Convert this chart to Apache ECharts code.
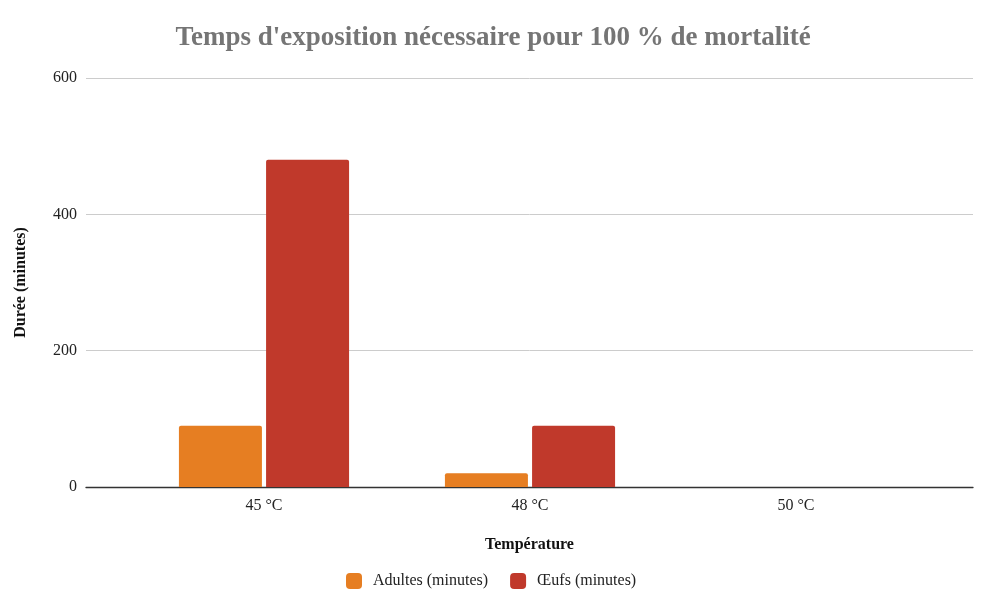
<!DOCTYPE html>
<html>
<head>
<meta charset="utf-8">
<script src="https://cdn.jsdelivr.net/npm/echarts@6/dist/echarts.min.js"></script>
<style>
  html, body { margin: 0; padding: 0; background: #fff; }
  #chart { width: 1000px; height: 615px; }
</style>
</head>
<body>
<div id="chart"></div>
<script>
// données
const categories = ['45 °C', '48 °C', '50 °C'];
const adultes = [90, 20, 0];
const oeufs = [480, 90, 0];
const yTicks = [0, 200, 400, 600];

const serif = '"Liberation Serif", "DejaVu Serif", serif';
const chart = echarts.init(document.getElementById('chart'));

const option = {
  backgroundColor: '#ffffff',
  animation: false,
  textStyle: { fontFamily: serif },
  title: {
    text: "Temps d'exposition nécessaire pour 100 % de mortalité",
    left: 488,
    textAlign: 'center',
    top: 20,
    textStyle: { fontFamily: serif, fontSize: 27, fontWeight: 'bold', color: '#757575' }
  },
  legend: {
    bottom: 21,
    left: 341,
    itemWidth: 16,
    itemHeight: 16,
    itemGap: 22,
    icon: 'roundRect',
    textStyle: { fontFamily: serif, fontSize: 16, color: '#222', padding: [0, 0, 0, 6] },
    data: ['Adultes (minutes)', 'Œufs (minutes)']
  },
  grid: [
    // grille de fond : lignes horizontales et axe
    { left: 86, right: 27, top: 78, bottom: 128 },
    // grille des barres
    { left: 131, right: 71, top: 78, bottom: 128 }
  ],
  xAxis: [
    {
      gridIndex: 0,
      type: 'category',
      data: categories,
      axisLine: { lineStyle: { color: '#333', width: 1.3 } },
      axisTick: { show: false },
      axisLabel: { show: false },
      name: 'Température',
      nameLocation: 'middle',
      nameGap: 50,
      nameTextStyle: { fontFamily: serif, fontSize: 16, fontWeight: 'bold', color: '#111' }
    },
    {
      gridIndex: 1,
      type: 'category',
      data: categories,
      axisLine: { show: false },
      axisTick: { show: false },
      axisLabel: { fontFamily: serif, fontSize: 16, color: '#222', margin: 11 }
    }
  ],
  yAxis: [
    {
      gridIndex: 0,
      type: 'value',
      min: yTicks[0],
      max: yTicks[yTicks.length - 1],
      interval: 200,
      axisLine: { show: false },
      axisTick: { show: false },
      axisLabel: { fontFamily: serif, fontSize: 16, color: '#222', margin: 9 },
      splitLine: { lineStyle: { color: '#cccccc', width: 1 } },
      name: 'Durée (minutes)',
      nameLocation: 'middle',
      nameGap: 57,
      nameTextStyle: { fontFamily: serif, fontSize: 16, fontWeight: 'bold', color: '#111' }
    },
    {
      gridIndex: 1,
      type: 'value',
      min: yTicks[0],
      max: yTicks[yTicks.length - 1],
      interval: 200,
      show: false
    }
  ],
  series: [
    {
      name: 'Adultes (minutes)',
      type: 'bar',
      xAxisIndex: 1,
      yAxisIndex: 1,
      data: adultes,
      barWidth: 83,
      barGap: '5%',
      itemStyle: { color: '#e67e22', borderRadius: [2, 2, 0, 0] }
    },
    {
      name: 'Œufs (minutes)',
      type: 'bar',
      xAxisIndex: 1,
      yAxisIndex: 1,
      data: oeufs,
      barWidth: 83,
      barGap: '5%',
      itemStyle: { color: '#c0392b', borderRadius: [2, 2, 0, 0] }
    }
  ]
};

chart.setOption(option);
</script>
</body>
</html>
